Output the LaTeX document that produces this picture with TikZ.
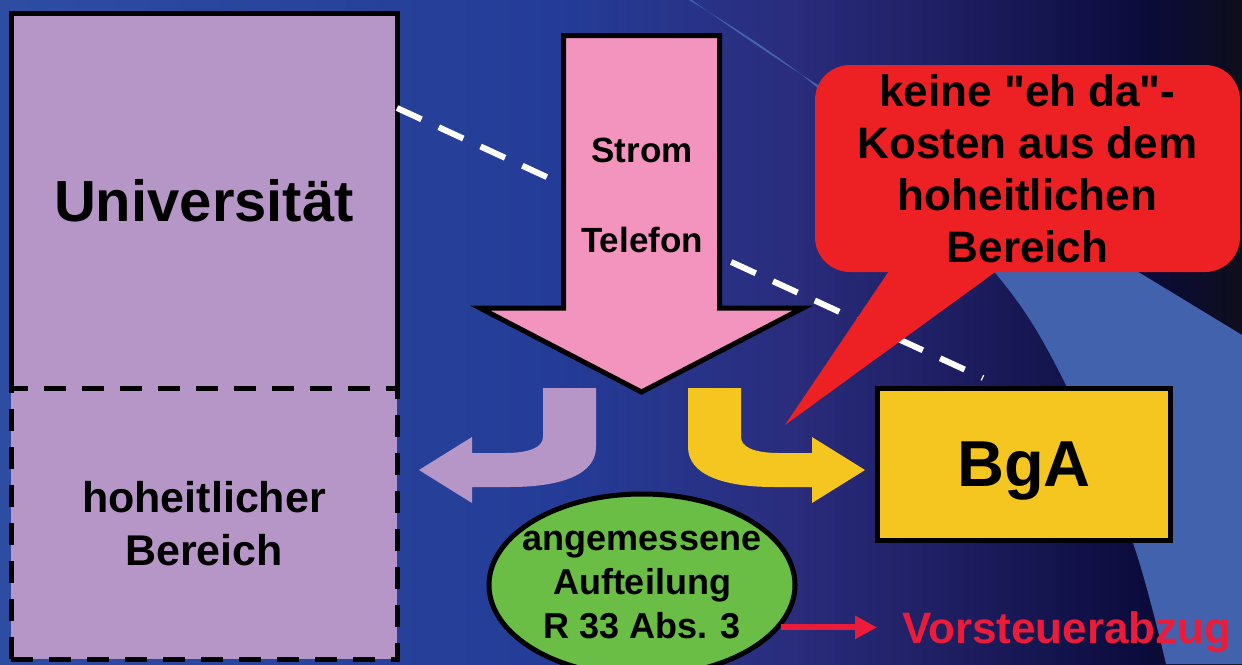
\documentclass[tikz,border=0pt]{standalone}
\usepackage{fontspec}
\setmainfont{Liberation Sans}[Ligatures=TeXOff]
\usetikzlibrary{
  arrows.meta, % for the Triangle arrow tip
  shapes.geometric, % for the ellipse
  positioning, % to put the lower part below the upper part
}
\definecolor{lavender}{HTML}{B696C6}
\definecolor{pinkfill}{HTML}{F294BE}
\definecolor{calloutred}{HTML}{ED2024}
\definecolor{yellowfill}{HTML}{F5C620}
\definecolor{greenfill}{HTML}{6ABD45}
\definecolor{textred}{HTML}{EB1C3A}
\definecolor{swooshblue}{HTML}{4262AE}
\definecolor{bgA}{HTML}{2D4DA2}
\definecolor{bgB}{HTML}{243C97}
\definecolor{bgC}{HTML}{2A2C7C}
\definecolor{bgD}{HTML}{1A1A5A}
\definecolor{bgE}{HTML}{0B0B3C}
\definecolor{bgF}{HTML}{0E0E1C}
\pgfdeclarehorizontalshading{bgshade}{100bp}{color(0bp)=(bgA); color(25bp)=(bgA);
  color(47.5bp)=(bgB); color(57bp)=(bgC); color(65bp)=(bgD); color(71bp)=(bgE);
  color(75bp)=(bgF); color(100bp)=(bgF)}
\tikzset{
  part/.style={ % style for the two parts of the university
    rectangle, % plain box
    fill=lavender, % light violet fill
    line width=5pt, % thick black border where drawn
    inner sep=0pt, outer sep=0pt, % no padding, so the parts touch
    minimum width=386pt, % both parts equally wide
    align=center, % text may have several lines
  },
  unipart/.style={ % upper part, border drawn by hand
    part,
    minimum height=375pt,
    font=\bfseries\fontsize{58}{64}\selectfont,
  },
  hoheit/.style={ % lower part with a dashed border
    part, draw,
    dash pattern=on 22pt off 16pt,
    minimum height=271pt,
    font=\bfseries\fontsize{43}{53}\selectfont,
  },
  pinkarrow/.style={ % the big arrow pointing down
    fill=pinkfill, draw=black,
    line width=5pt,
  },
  arrowtext/.style={ % text in the big arrow
    inner sep=0pt,
    font=\bfseries\fontsize{35}{42}\selectfont,
  },
  callout/.style={ % red speech bubble
    rectangle, fill=calloutred,
    rounded corners=35pt,
    minimum width=425pt, minimum height=207pt,
    align=center,
    font=\bfseries\fontsize{44}{52}\selectfont,
  },
  bgabox/.style={ % yellow box
    rectangle, fill=yellowfill, draw=black,
    line width=5pt,
    minimum width=293pt, minimum height=152pt,
    text depth=0pt,
    font=\bfseries\fontsize{65}{70}\selectfont,
  },
  ellbox/.style={ % green ellipse
    ellipse, fill=greenfill, draw=black,
    line width=5pt, inner sep=0pt,
    minimum width=306pt, minimum height=182pt,
  },
  elltext/.style={ % text in the ellipse
    inner sep=0pt, align=center,
    font=\bfseries\fontsize{36}{44}\selectfont,
  },
  redtext/.style={ % red label on the right
    inner sep=0pt, text=textred,
    font=\bfseries\fontsize{44}{50}\selectfont,
  },
  tieline/.style={ % white dashed line
    white, line width=6pt,
    dash pattern=on 27pt off 19pt,
  },
  vstarrow/.style={ % small red arrow
    -{Triangle[length=22pt,width=22pt]},
    textred, line width=6pt,
    shorten >=25pt,
  },
}
\begin{document}
\begin{tikzpicture}[x=1pt, y=-1pt]
  \useasboundingbox (0,0) rectangle (1242,664);
  \clip (0,0) rectangle (1242,664);

  % background
  \shade[shading=bgshade] (0,0) rectangle (1242,664);
  \fill[swooshblue] plot[smooth] coordinates {(689,0) (820,90) (997,275) (1067,387) (1133,543) (1166,664)}
    -- (1242,664) -- (1242,335)
    -- plot[smooth] coordinates {(1140,273) (823,88) (692,0)} -- cycle;

  \node[unipart] (uni) at (204,200.5) {Universität};
  \draw[line width=5pt] (uni.south west) -- (uni.north west) -- (uni.north east) -- (uni.south east);
  \node[hoheit, below=0pt of uni] (hob) {hoheitlicher\\Bereich};

  \coordinate (dashend) at (983,378);
  \draw[tieline] ([yshift=-95pt]uni.north east) -- (dashend);

  \filldraw[pinkarrow] (563.5,35.5) -- (719.5,35.5) -- (719.5,308) -- (803,308)
    -- (641.5,392) -- (480,308) -- (563.5,308) -- cycle;
  \node[arrowtext] (strom) at (642,150) {Strom};
  \node[arrowtext] (tel) at (642,240) {Telefon};

  % the two bent arrows
  \foreach \side/\col in {1/lavender, -1/yellowfill}
    \fill[\col, shift={(642,0)}, xscale=\side] (-46,388) -- (-46,447)
      .. controls (-46,475) and (-82,487) .. (-132,487) -- (-170,487) -- (-170,503)
      -- (-223,470) -- (-170,437) -- (-170,453) -- (-137,453)
      .. controls (-112,453) and (-99,447) .. (-99,437) -- (-99,388) -- cycle;

  \fill[calloutred] (785,425) -- (895,262) -- (1009,262) -- cycle;
  \node[callout] (eh) at (1027.5,168.5) {keine "eh da"-\\Kosten aus dem\\hoheitlichen\\Bereich};

  \node[bgabox] (bga) at (1024,464.5) {BgA};

  \node[ellbox] (ell) at (642,585) {};
  \node[elltext] (auft) at (ell) {angemessene\\Aufteilung\\R 33 Abs. 3};

  \node[redtext, anchor=base west] (vst) at (902,643) {Vorsteuerabzug};
  \draw[vstarrow] (ell.-17.7) -- (ell.-17.7 -| vst.west);
\end{tikzpicture}
\end{document}
